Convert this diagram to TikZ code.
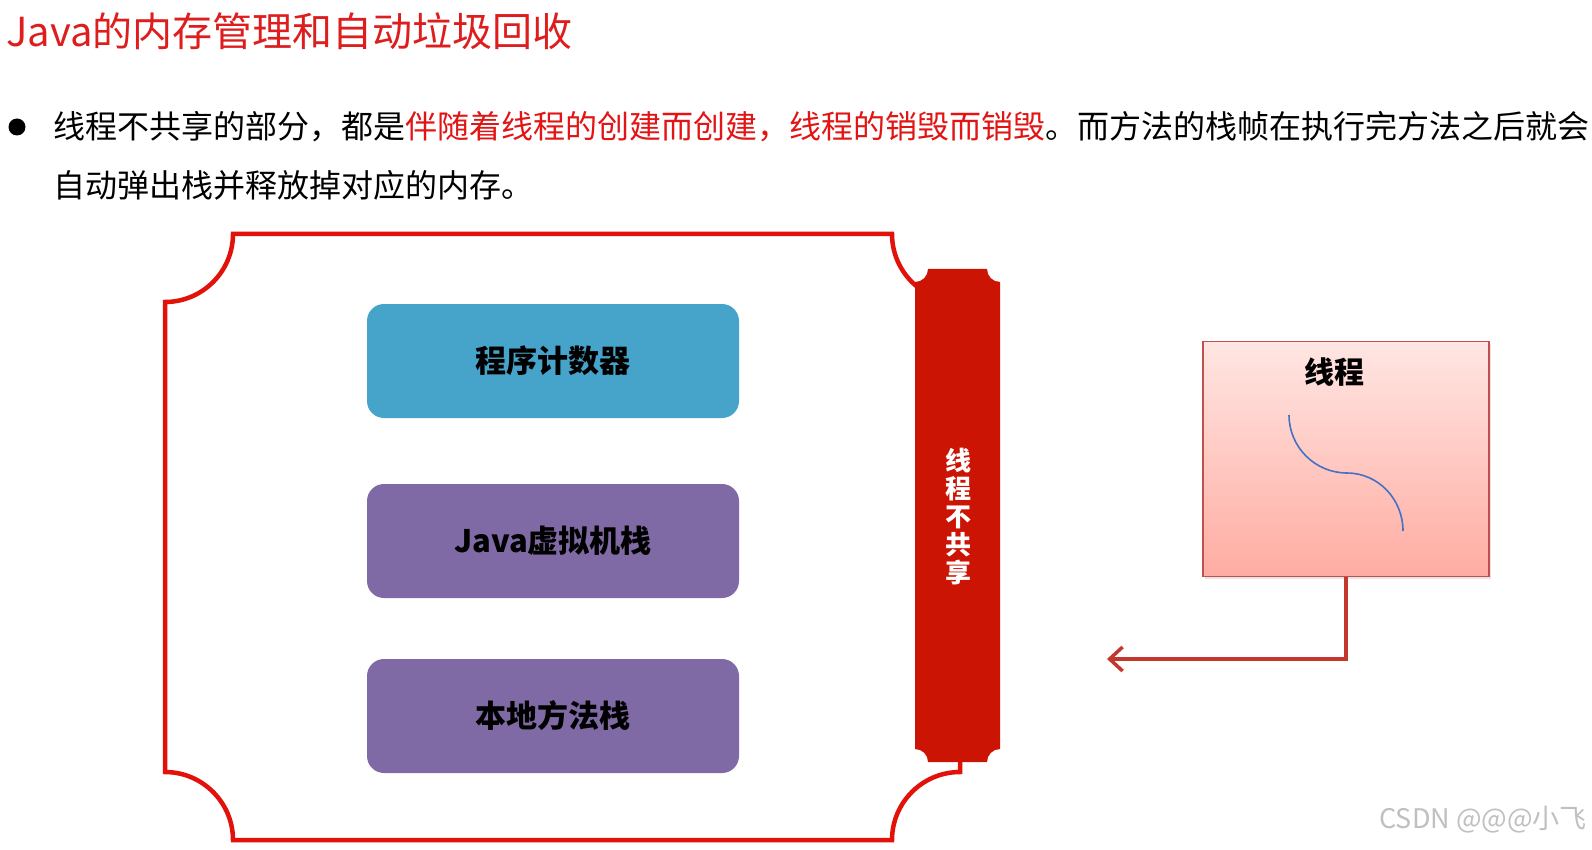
\documentclass[tikz,border=0pt]{standalone}
\usepackage{fontspec}
\setmainfont{Noto Sans CJK SC}
\usetikzlibrary{arrows.meta,shadows}
\definecolor{titlered}{RGB}{222,30,30}
\definecolor{textred}{RGB}{226,20,20}
\definecolor{framered}{RGB}{226,18,10}
\definecolor{barred}{RGB}{204,20,4}
\definecolor{pcblue}{RGB}{70,164,203}
\definecolor{stackpurple}{RGB}{128,106,166}
\definecolor{pinktop}{RGB}{255,230,227}
\definecolor{pinkbot}{RGB}{255,172,162}
\definecolor{pinkedge}{RGB}{192,80,77}
\definecolor{arrowred}{RGB}{194,56,44}
\definecolor{curveblue}{RGB}{68,114,196}
\definecolor{wmgray}{RGB}{192,192,192}
\begin{document}
\begin{tikzpicture}[x=1pt,y=-1pt,
  memblock/.style={rounded corners=17pt, minimum width=372pt, minimum height=114pt,
    inner sep=0pt, font=\fontsize{31}{34}\selectfont\bfseries, text=black},
  bodyline/.style={anchor=west, inner sep=0pt, font=\fontsize{32}{36}\selectfont, text=black},
  framestyle/.style={draw=framered, line width=4.5pt},
  threadbox/.style={draw=pinkedge, line width=1.5pt, top color=pinktop, bottom color=pinkbot,
    minimum width=286pt, minimum height=235pt, inner sep=0pt,
    drop shadow={opacity=0.2, shadow xshift=2pt, shadow yshift=-2pt}},
  arrowline/.style={draw=arrowred, line width=3.5pt, -{Straight Barb[length=13pt,width=24pt]}}
]
\useasboundingbox (0,0) rectangle (1592,850);
\fill[white] (0,0) rectangle (1592,850);

% title
\node[anchor=west, inner sep=0pt, font=\fontsize{40}{44}\selectfont, text=titlered] (title) at (6,31) {Java的内存管理和自动垃圾回收};

% bullet text
\fill[black] (17,127) circle (8.5pt);
\node[bodyline] (line1) at (53,127) {线程不共享的部分，都是\textcolor{textred}{伴随着线程的创建而创建，线程的销毁而销毁}。而方法的栈帧在执行完方法之后就会};
\node[bodyline] (line2) at (53,185) {自动弹出栈并释放掉对应的内存。};

% frame with concave corners
\draw[framestyle] (233,234) -- (892,234)
  .. controls (892,271.5) and (922.5,302) .. (960,302) -- (960,772)
  .. controls (922.5,772) and (892,802.5) .. (892,840) -- (233,840)
  .. controls (233,802.5) and (202.5,772) .. (165,772) -- (165,302)
  .. controls (202.5,302) and (233,271.5) .. (233,234) -- cycle;

% red bar
\fill[barred] (928,269) -- (987,269) .. controls (987,276.2) and (992.8,282) .. (1000,282)
  -- (1000,749) .. controls (992.8,749) and (987,754.8) .. (987,762)
  -- (928,762) .. controls (928,754.8) and (922.2,749) .. (915,749)
  -- (915,282) .. controls (922.2,282) and (928,276.2) .. (928,269) -- cycle;
\node[font=\fontsize{26}{28}\selectfont\bfseries, text=white, align=center, inner sep=0pt] (barlabel) at (958,517) {线\\程\\不\\共\\享};

% memory blocks
\node[memblock, fill=pcblue] (pc) at (553,361) {程序计数器};
\node[memblock, fill=stackpurple] (jvmstack) at (553,541) {Java虚拟机栈};
\node[memblock, fill=stackpurple] (nativestack) at (553,716) {本地方法栈};

% thread box
\node[threadbox] (thread) at (1346,459) {};
\node[font=\fontsize{30}{32}\selectfont\bfseries, text=black] (threadlabel) at (1334,372) {线程};
\draw[curveblue, line width=1.6pt] (1289,415) .. controls (1289,447) and (1315,473) .. (1347,473)
  .. controls (1378,473) and (1403,499) .. (1403,531);

% arrow
\coordinate (arrowtip) at (1107,659);
\draw[arrowline] (thread.south) |- (arrowtip);

% watermark
\node[anchor=east, inner sep=0pt, font=\fontsize{27}{30}\selectfont, text=wmgray] (wm) at (1587,820) {CSDN @@@小飞};
\end{tikzpicture}
\end{document}
